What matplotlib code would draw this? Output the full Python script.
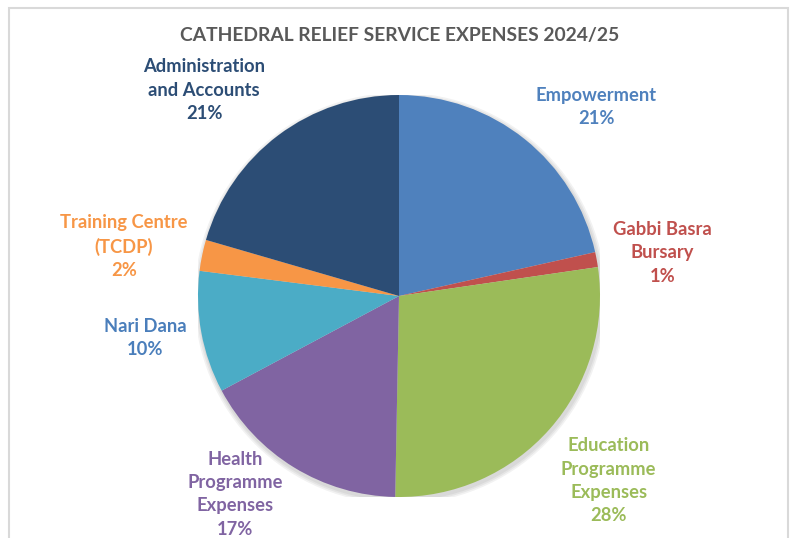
import numpy as np
import matplotlib
matplotlib.use('Agg')
import matplotlib.pyplot as plt
from matplotlib.patches import Rectangle, Circle

title = 'CATHEDRAL RELIEF SERVICE EXPENSES 2024/25'
labels = ['Empowerment', 'Gabbi Basra\nBursary', 'Education\nProgramme\nExpenses',
          'Health\nProgramme\nExpenses', 'Nari Dana', 'Training Centre\n(TCDP)',
          'Administration\nand Accounts']
shares = [21.5, 1.2, 27.6, 16.9, 9.8, 2.5, 20.5]
shown_pct = ['21%', '1%', '28%', '17%', '10%', '2%', '21%']

colors = ['#4F81BD', '#C0504D', '#9BBB59', '#8064A2', '#4BACC6', '#F79646', '#2C4D75']
text_colors = ['#4F81BD', '#C0504D', '#9BBB59', '#8064A2', '#4A7EBB', '#F79646', '#2C4D75']
# (radial distance, angle shift in degrees) for each label
label_place = [(1.358, -7.5), (1.328, -1.15), (1.39, 0), (1.279, -8.1), (1.28, -1.0), (1.39, 1.5), (1.41, 6.5)]

plt.rcParams['font.family'] = ['Lato', 'DejaVu Sans']
fig = plt.figure(figsize=(7.93, 5.38), dpi=100)

W, H = 793, 538
cx, cy, r = 399, 296, 201
ax = fig.add_axes([(cx - r) / W, (H - cy - r) / H, 2 * r / W, 2 * r / H])

# soft shadow behind the pie
for k in range(3):
  ax.add_patch(Circle((0.006, -0.012), 1.0 + 0.008 * (k + 1), color='black', alpha=0.05, lw=0, zorder=0))

wedges, _ = ax.pie(shares, colors=colors, startangle=90, counterclock=False,
                   wedgeprops={'linewidth': 0})
for w in wedges:
  w.set_zorder(2)
ax.set_xlim(-1, 1)
ax.set_ylim(-1, 1)
ax.set_aspect('equal')

for w, lab, pct, col, (dist, dang) in zip(wedges, labels, shown_pct, text_colors, label_place):
  t = np.deg2rad((w.theta1 + w.theta2) / 2 + dang)
  ax.text(dist * np.cos(t), dist * np.sin(t), lab + '\n' + pct, ha='center', va='center',
          color=col, fontsize=13.2, fontweight='bold', linespacing=1.45)

fig.text(0.5045, 1 - 35 / H, title, ha='center', va='center', color='#595959',
         fontsize=13.9, fontweight='bold')

fig.patches.append(Rectangle((9 / W, -0.05), 779 / W, 1.05 - 8 / H, transform=fig.transFigure,
                             fill=False, edgecolor='#d9d9d9', linewidth=1.5))

fig.savefig('out.png', dpi=100)
